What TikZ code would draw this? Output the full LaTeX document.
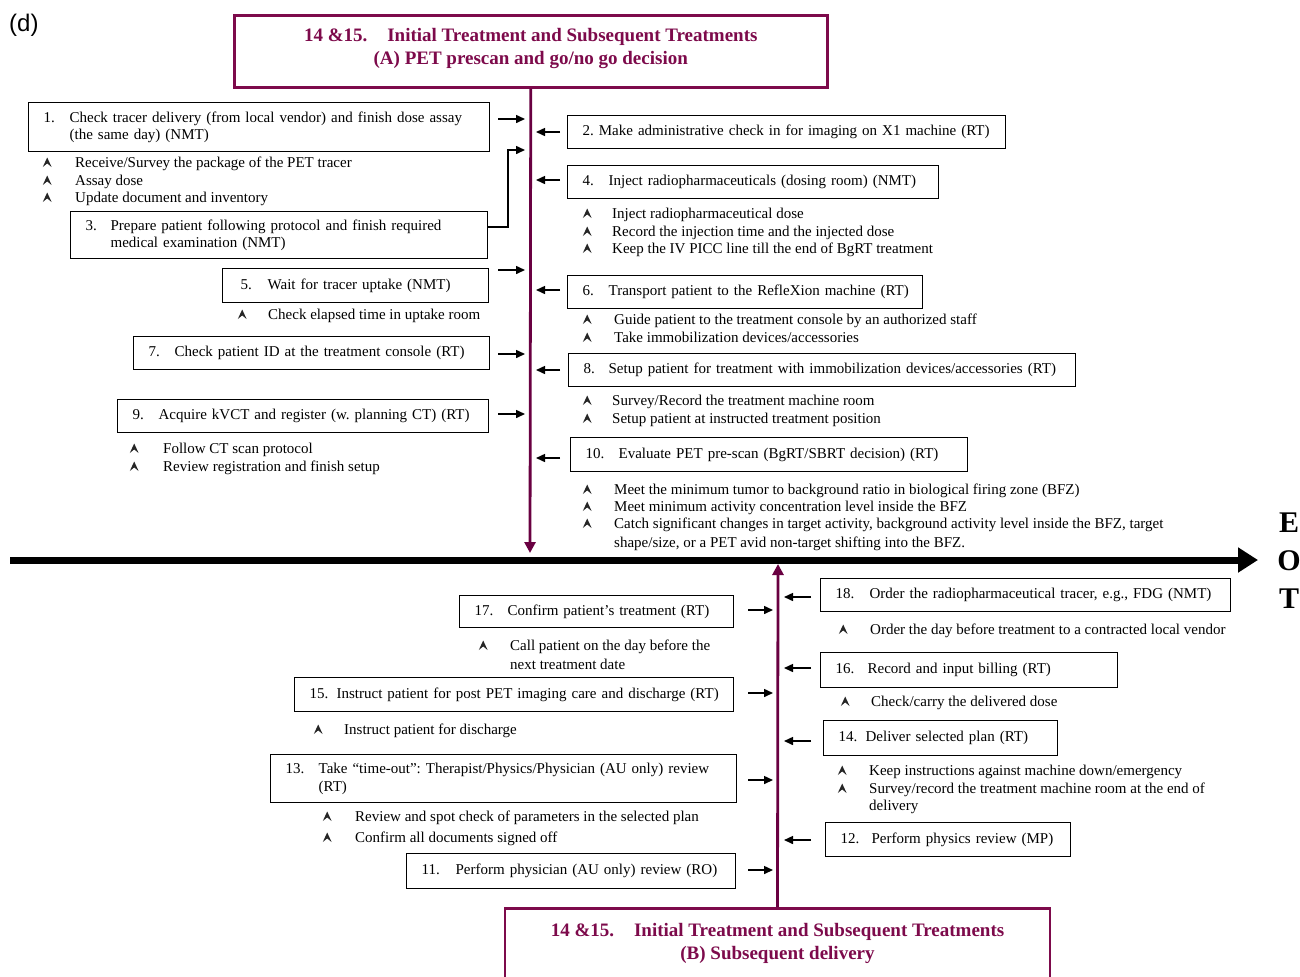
\documentclass[tikz,border=0pt]{standalone}
\usepackage{fontspec}
\setmainfont{Liberation Serif}
\newfontfamily\arialfont{Liberation Sans}
\usetikzlibrary{arrows.meta,calc}
\definecolor{mar}{RGB}{125,10,75}
\definecolor{spcol}{RGB}{105,0,65}
\frenchspacing
\newcommand\fs{\fontsize{15bp}{17.5bp}\selectfont}
\newcommand\tri{\tikz[x=1bp,y=1bp,baseline=0bp]\fill[black!85] (0,0)--(4.4,9.5)--(8.8,0)--(4.4,3.6)--cycle;}
\newcommand\nm[2]{\makebox[#1bp][l]{#2}}
\newcommand\bx[6]{\pgfmathsetmacro\tw{#4-30}%
  \node[box, minimum width=#4bp, text width=\tw bp, minimum height=#5bp] (#1) at (#2,#3) {#6};}
\newcommand\bl[5]{\node[txt] (#1) at (#2-4.4,#3+5) {\makebox[\dimexpr #4bp+4.4bp\relax][l]{\tri}#5};}
\newcommand\cl[4]{\node[txt] (#1) at (#2,#3+5) {#4};}
\tikzset{
  box/.style={draw, line width=1.3bp, anchor=north west, inner xsep=15bp, inner ysep=0bp, align=left, font=\fs},
  txt/.style={anchor=base west, inner sep=0pt, font=\fs},
  arr/.style={line width=1.5bp, -{Triangle[length=9bp,width=8bp]}},
  spn/.style={draw=spcol, line width=2.8bp, -{Triangle[length=11bp,width=11bp]}},
  ttl/.style={draw=mar, line width=2.5bp, text=mar, align=center, font=\bfseries\fontsize{19bp}{23bp}\selectfont},
  eot/.style={font=\bfseries\fontsize{30bp}{30bp}\selectfont, inner sep=0pt}
}
\begin{document}
\begin{tikzpicture}[x=1bp,y=-1bp]
\useasboundingbox (0,0) rectangle (1300,976);
\clip (0,0) rectangle (1300,976);
\fill[white] (0,0) rectangle (1300,976);

\node[font=\arialfont\fontsize{24bp}{28bp}\selectfont, anchor=base west, inner sep=0pt] (lbl) at (9,31) {(d)};

% titles
\node[ttl, anchor=north west, minimum width=593bp, minimum height=72bp, inner ysep=0pt] (tA) at (233,14)
  {14 \&15.\hspace{20bp}Initial Treatment and Subsequent Treatments\\(A) PET prescan and go/no go decision\rule[-9bp]{0pt}{9bp}};
\node[ttl, anchor=north, minimum width=545bp, inner ysep=15bp] (tB) at (777.5,907)
  {14 \&15.\hspace{20bp}Initial Treatment and Subsequent Treatments\\(B) Subsequent delivery\\[20bp]\mbox{}};

% spines and time axis
\coordinate (spA) at (530,88);
\coordinate (eA) at (530,553);
\coordinate (spB) at (778,905);
\coordinate (eB) at (778,564);
\draw[spn] (tA.south) -- (eA);
\draw[spn] (tB.north) -- (eB);
\coordinate (m0) at (10,560);
\coordinate (m1) at (1258,560);
\draw[line width=7bp, -{Triangle[length=20bp,width=24bp]}] (m0) -- (m1);
\node[eot] (e1) at (1289,523) {E};
\node[eot] (e2) at (1289,561) {O};
\node[eot] (e3) at (1289,599) {T};

% top left boxes
\bx{b1}{28}{102}{461}{49}{\mbox{\nm{26}{1.}Check tracer delivery (from local vendor) and finish dose assay}\\\mbox{\hspace*{26bp}(the same day) (NMT)}}
\bx{b3}{70}{211}{417}{47}{\mbox{\nm{25}{3.}Prepare patient following protocol and finish required}\\\mbox{\hspace*{25bp}medical examination (NMT)}}
\bx{b5}{222}{268}{266}{34}{\mbox{\hspace*{3bp}\nm{27}{5.}Wait for tracer uptake (NMT)}}
\bx{b7}{133}{336}{356}{33}{\mbox{\nm{26}{7.}Check patient ID at the treatment console (RT)}}
\bx{b9}{117}{399}{371}{33}{\mbox{\nm{26}{9.}Acquire kVCT and register (w. planning CT) (RT)}}

% top right boxes
\bx{b2}{567}{115}{438}{33}{\mbox{2. Make administrative check in for imaging on X1 machine (RT)}}
\bx{b4}{567}{165}{371}{33}{\mbox{\nm{26}{4.}Inject radiopharmaceuticals (dosing room) (NMT)}}
\bx{b6}{567}{275}{355}{33}{\mbox{\nm{26}{6.}Transport patient to the RefleXion machine (RT)}}
\bx{b8}{568}{353}{507}{33}{\mbox{\nm{25}{8.}Setup patient for treatment with immobilization devices/accessories (RT)}}
\bx{b10}{570}{437}{397}{34}{\mbox{\nm{33}{10.}Evaluate PET pre-scan (BgRT/SBRT decision) (RT)}}

% bottom left boxes
\bx{b17}{459}{595}{274}{32}{\mbox{\nm{33}{17.}Confirm patient’s treatment (RT)}}
\bx{b15}{294}{677}{439}{34}{\mbox{\nm{27}{15.}Instruct patient for post PET imaging care and discharge (RT)}}
\bx{b13}{270}{754}{466}{48}{\mbox{\nm{33}{13.}Take “time-out”: Therapist/Physics/Physician (AU only) review}\\\mbox{\hspace*{33bp}(RT)}}
\bx{b11}{406}{853}{329}{35}{\mbox{\nm{34}{11.}Perform physician (AU only) review (RO)}}

% bottom right boxes
\bx{b18}{820}{578}{410}{33}{\mbox{\nm{34}{18.}Order the radiopharmaceutical tracer, e.g., FDG (NMT)}}
\bx{b16}{820}{652}{297}{35}{\mbox{\nm{32}{16.}Record and input billing (RT)}}
\bx{b14}{823}{720}{234}{35}{\mbox{\nm{27}{14.}Deliver selected plan (RT)}}
\bx{b12}{825}{822}{245}{34}{\mbox{\nm{31}{12.}Perform physics review (MP)}}

% bullet lists
\bl{l1a}{47}{162}{28}{Receive/Survey the package of the PET tracer}
\bl{l1b}{47}{180}{28}{Assay dose}
\bl{l1c}{47}{197}{28}{Update document and inventory}
\bl{l5a}{242}{314}{26}{Check elapsed time in uptake room}
\bl{l9a}{134}{448}{29}{Follow CT scan protocol}
\bl{l9b}{134}{466}{29}{Review registration and finish setup}
\bl{r4a}{587}{213}{25}{Inject radiopharmaceutical dose}
\bl{r4b}{587}{231}{25}{Record the injection time and the injected dose}
\bl{r4c}{587}{248}{25}{Keep the IV PICC line till the end of BgRT treatment}
\bl{r6a}{587}{319}{27}{Guide patient to the treatment console by an authorized staff}
\bl{r6b}{587}{337}{27}{Take immobilization devices/accessories}
\bl{r8a}{587}{400}{25}{Survey/Record the treatment machine room}
\bl{r8b}{587}{418}{25}{Setup patient at instructed treatment position}
\bl{r10a}{587}{489}{27}{Meet the minimum tumor to background ratio in biological firing zone (BFZ)}
\bl{r10b}{587}{506}{27}{Meet minimum activity concentration level inside the BFZ}
\bl{r10c}{587}{523}{27}{Catch significant changes in target activity, background activity level inside the BFZ, target}
\cl{r10d}{614}{542}{shape/size, or a PET avid non-target shifting into the BFZ.}
\bl{k17a}{483}{645}{27}{Call patient on the day before the}
\cl{k17b}{510}{664}{next treatment date}
\bl{k15a}{318}{729}{26}{Instruct patient for discharge}
\bl{k13a}{327}{816}{28}{Review and spot check of parameters in the selected plan}
\bl{k13b}{327}{837}{28}{Confirm all documents signed off}
\bl{k18a}{843}{629}{27}{Order the day before treatment to a contracted local vendor}
\bl{k16a}{845}{701}{26}{Check/carry the delivered dose}
\bl{k14a}{842}{770}{27}{Keep instructions against machine down/emergency}
\bl{k14b}{842}{788}{27}{Survey/record the treatment machine room at the end of}
\cl{k14c}{869}{805}{delivery}

% connectors top-left (to spine)
\draw[arr] ($(b1.east|-0,119)+(8,0)$) -- ($(spA|-0,119)+(-5,0)$);
\draw[arr] (b3.east|-0,227) -| ($(spA|-0,150)+(-22,0)$) -- ($(spA|-0,150)+(-5,0)$);
\draw[arr] ($(b5.east|-0,270)+(9,0)$) -- ($(spA|-0,270)+(-5,0)$);
\draw[arr] ($(b7.east|-0,354)+(8,0)$) -- ($(spA|-0,354)+(-5,0)$);
\draw[arr] ($(b9.east|-0,414)+(9,0)$) -- ($(spA|-0,414)+(-5,0)$);
% top-right (from spine side)
\draw[arr] ($(b2.west|-0,132)+(-7,0)$) -- ($(spA|-0,132)+(6,0)$);
\draw[arr] ($(b4.west|-0,180)+(-7,0)$) -- ($(spA|-0,180)+(6,0)$);
\draw[arr] ($(b6.west|-0,290)+(-7,0)$) -- ($(spA|-0,290)+(6,0)$);
\draw[arr] ($(b8.west|-0,370)+(-8,0)$) -- ($(spA|-0,370)+(6,0)$);
\draw[arr] ($(b10.west|-0,458)+(-10,0)$) -- ($(spA|-0,458)+(6,0)$);
% bottom-left
\draw[arr] ($(b17.east|-0,610)+(14,0)$) -- ($(spB|-0,610)+(-5,0)$);
\draw[arr] ($(b15.east|-0,693)+(14,0)$) -- ($(spB|-0,693)+(-5,0)$);
\draw[arr] ($(b13.east|-0,780)+(11,0)$) -- ($(spB|-0,780)+(-5,0)$);
\draw[arr] ($(b11.east|-0,870)+(12,0)$) -- ($(spB|-0,870)+(-5,0)$);
% bottom-right
\draw[arr] ($(b18.west|-0,597)+(-9,0)$) -- ($(spB|-0,597)+(6,0)$);
\draw[arr] ($(b16.west|-0,668)+(-9,0)$) -- ($(spB|-0,668)+(6,0)$);
\draw[arr] ($(b14.west|-0,741)+(-12,0)$) -- ($(spB|-0,741)+(6,0)$);
\draw[arr] ($(b12.west|-0,840)+(-14,0)$) -- ($(spB|-0,840)+(6,0)$);
\end{tikzpicture}
\end{document}
